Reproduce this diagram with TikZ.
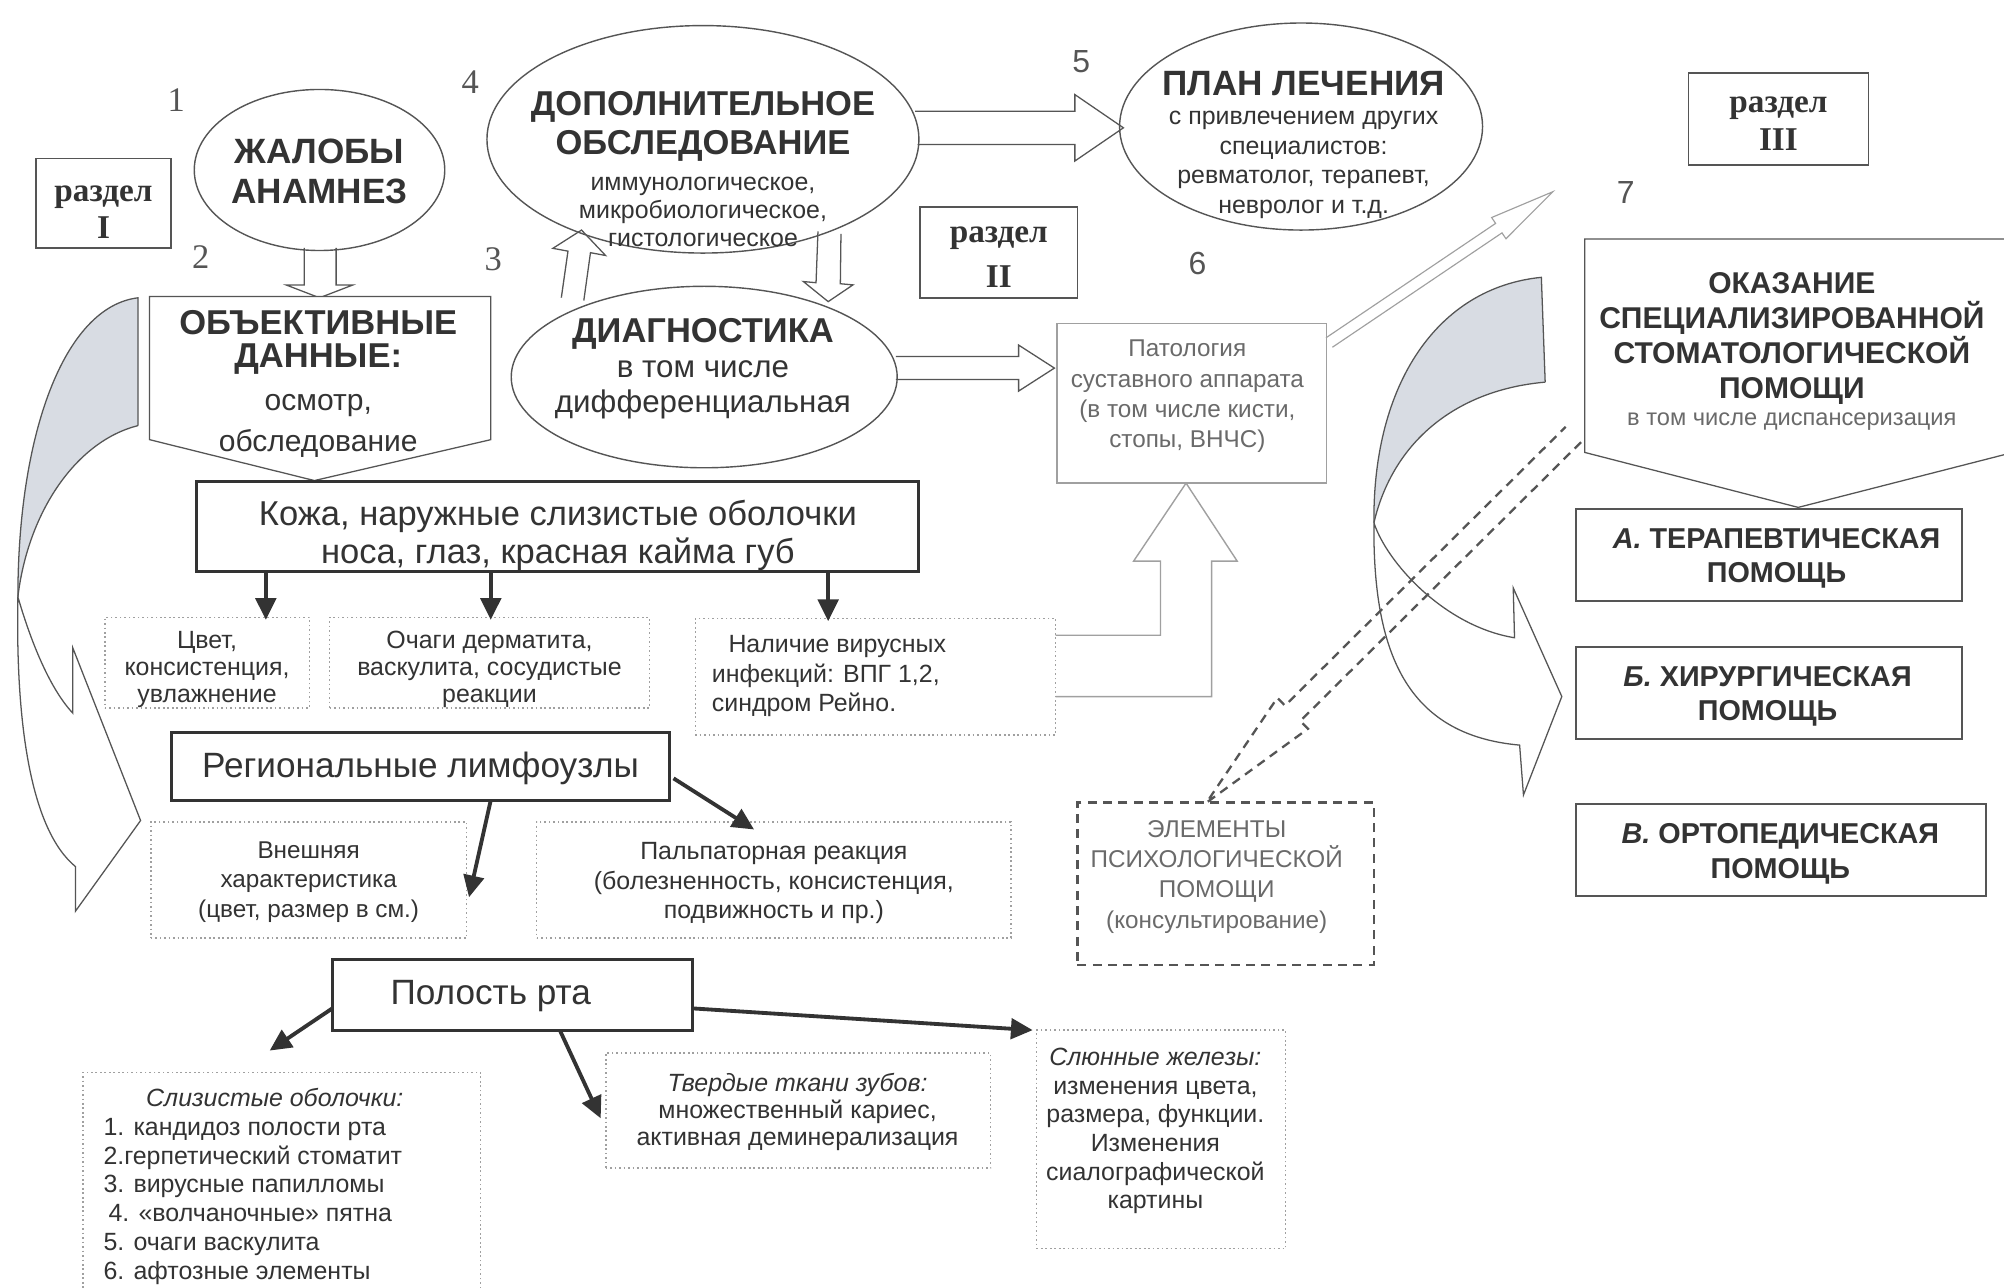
\documentclass[tikz,border=0pt]{standalone}
\usepackage{fontspec}
\setmainfont{Liberation Sans}
\newfontfamily\tms{Liberation Serif}
\usetikzlibrary{arrows.meta,shapes.geometric,calc}
\definecolor{ink}{HTML}{333333}
\definecolor{ln}{HTML}{555555}
\definecolor{lg}{HTML}{A0A0A0}
\definecolor{bandgray}{HTML}{D8DCE3}
\definecolor{soft}{HTML}{6A6A6A}
\newcommand\fsz[2]{\fontsize{#1}{#2}\selectfont}
\begin{document}
\begin{tikzpicture}[x=1pt,y=-1pt,
  every node/.style={text=ink, inner sep=0pt, outer sep=0pt},
  ell/.style={draw=ln, line width=1.1pt, ellipse},
  thinbox/.style={draw=ln, line width=1pt, rectangle},
  secbox/.style={draw=ln, line width=1.2pt, rectangle},
  heavybox/.style={draw=ink, line width=2.4pt, rectangle},
  helpbox/.style={draw=ln, line width=1.6pt, rectangle},
  dotbox/.style={draw=lg, line width=1.1pt, dash pattern=on 1.3pt off 2.2pt, rectangle},
  elembox/.style={draw=ln, line width=2pt, dash pattern=on 7pt off 5pt, rectangle},
  darr/.style={draw=ink, line width=3pt, -{Triangle[length=17pt,width=16pt]}},
  harr/.style={draw=ln, line width=1pt, fill=white, line join=miter},
  big/.style={font=\bfseries\fsz{27}{26}, align=center},
  small/.style={font=\fsz{19.5}{21}, align=center},
  num/.style={font=\tms\fsz{27}{27}, text=ln},
  nums/.style={font=\fsz{25}{25}, text=ln},
  sec/.style={font=\tms\bfseries\fsz{26}{29}, align=center}
]
\useasboundingbox (0,0) rectangle (1568,1007);
\clip (0,0) rectangle (1568,1007);
\fill[white] (0,0) rectangle (1568,1007);

% ---------- curved arrows ----------
% left
\fill[bandgray] (108,233) -- (108,333) .. controls (60,345) and (22,400) .. (14,467)
   .. controls (14,340) and (50,240) .. (108,233) -- cycle;
\draw[ln, line width=1pt, line join=miter] (108,333) -- (108,233)
   .. controls (50,240) and (14,340) .. (14,467)
   .. controls (12,570) and (25,650) .. (59,678) -- (59,713) -- (110,642) -- (57,507) -- (57,558)
   .. controls (40,540) and (25,505) .. (14,467);
\draw[ln, line width=1pt] (108,333) .. controls (60,345) and (22,400) .. (14,467);
% right
\fill[bandgray] (1206,217) -- (1209,299) .. controls (1140,305) and (1090,345) .. (1075,409)
   .. controls (1074,300) and (1125,225) .. (1206,217) -- cycle;
\draw[ln, line width=1pt, line join=miter] (1209,299) -- (1206,217)
   .. controls (1125,225) and (1074,300) .. (1075,409)
   .. controls (1074,510) and (1100,575) .. (1189,583) -- (1192,622) -- (1222,545) -- (1184,460) -- (1185,499)
   .. controls (1130,490) and (1085,440) .. (1075,409);
\draw[ln, line width=1pt] (1209,299) .. controls (1140,305) and (1090,345) .. (1075,409);

% ---------- section boxes ----------
\node[secbox, minimum width=106pt, minimum height=70pt] (secI) at (81,159) {};
\node[sec] (secIt) at (81,166) {раздел\\I};
\node[secbox, minimum width=123pt, minimum height=71pt] (secII) at (781.5,197.5) {};
\node[sec, font=\tms\bfseries\fsz{26}{35}] (secIIt) at (781.5,201) {раздел\\II};
\node[secbox, minimum width=141pt, minimum height=72pt] (secIII) at (1391.5,93) {};
\node[sec, font=\tms\bfseries\fsz{26}{30}] (secIIIt) at (1391.5,97) {раздел\\III};

% ---------- numbers ----------
\node[num] (n1) at (138,78) {1};
\node[num] (n2) at (157,201) {2};
\node[num] (n3) at (386,203) {3};
\node[num] (n4) at (368,64) {4};
\node[nums] (n5) at (846,48) {5};
\node[nums] (n6) at (937,206) {6};
\node[nums] (n7) at (1272,151) {7};

% ---------- block arrows (drawn before ellipses) ----------
\draw[harr] (238,194) -- (238,223) -- (224,223) -- (250,233) -- (276,223) -- (263,223) -- (263,194);
\draw[harr] (716,87) -- (841,87) -- (841,74) -- (879,100) -- (841,126) -- (841,113) -- (718,113);
\draw[harr] (701,279) -- (797,279) -- (797,270) -- (825,288) -- (797,306) -- (797,297) -- (701,297);
\draw[harr] (439.2,232.9) -- (444.4,196.5) -- (432.6,194.3) -- (455,180) -- (473.8,199.9) -- (462.0,197.7) -- (456.8,235.1);
\draw[harr] (640.0,181.1) -- (638.5,221.2) -- (628.6,220.3) -- (648,236) -- (667.4,222.9) -- (657.5,222.0) -- (658.0,182.9);

% ---------- ellipses ----------
\node[ell, minimum width=196pt, minimum height=126pt] (zhal) at (250,133) {};
\node[big, font=\bfseries\fsz{27.5}{31}] (zhalt) at (250,134) {ЖАЛОБЫ\\АНАМНЕЗ};

\node[ell, minimum width=338pt, minimum height=178pt] (dop) at (550,109) {};
\node[big, font=\bfseries\fsz{27}{31}] (dopt) at (550,99) {ДОПОЛНИТЕЛЬНОЕ\\ОБСЛЕДОВАНИЕ};
\node[small, font=\fsz{19.5}{22}] (dops) at (550,166) {иммунологическое,\\микробиологическое,\\гистологическое};

\node[ell, minimum width=302pt, minimum height=142pt] (diag) at (551,295) {};
\node[big] (diagt) at (550,261) {ДИАГНОСТИКА};
\node[font=\fsz{24.5}{27}, align=center] (diags) at (550,305) {в том числе\\дифференциальная};

\node[ell, minimum width=284pt, minimum height=162pt] (plan) at (1018,99) {};
\node[big, font=\bfseries\fsz{27.5}{27}] (plant) at (1020,65) {ПЛАН ЛЕЧЕНИЯ};
\node[small, font=\fsz{19.5}{23}] (plans) at (1020,129) {с привлечением других\\специалистов:\\ревматолог, терапевт,\\невролог и т.д.};

% ---------- objective data pentagon ----------
\draw[ln, line width=1pt, fill=white] (117,232) -- (384,232) -- (384,344) -- (246,376) -- (117,344) -- cycle;
\coordinate (obj) at (250,300);
\node[big] (objt) at (249,268) {ОБЪЕКТИВНЫЕ\\ДАННЫЕ:};
\node[font=\fsz{23.5}{32}, align=center] (objs) at (249,333) {осмотр,\\обследование};

% ---------- Патология ----------
\node[thinbox, draw=lg, minimum width=211pt, minimum height=125pt] (pat) at (932.5,315.5) {};
\node[small, font=\fsz{19}{23.5}, text=soft] (patt) at (929,310) {Патология\\суставного аппарата\\(в том числе кисти,\\стопы, ВНЧС)};

% thin arrow to section III
\draw[lg, line width=0.9pt, line join=miter] (1037.5,264.3) -- (1170.2,174.8) -- (1167.1,170.2) -- (1215,150) -- (1178.3,186.8) -- (1175.2,182.2) -- (1042.5,271.7);

% ---------- Кожа ----------
\node[heavybox, minimum width=565pt, minimum height=70pt] (koza) at (436.5,412) {};
\node[font=\fsz{27}{30}, align=center] (kozat) at (436.5,419) {Кожа, наружные слизистые оболочки\\носа, глаз, красная кайма губ};

\node[dotbox, minimum width=160pt, minimum height=71pt] (cvet) at (162,518.5) {};
\node[small] (cvett) at (162,524) {Цвет,\\консистенция,\\увлажнение};
\node[dotbox, minimum width=250pt, minimum height=71pt] (ochag) at (383,518.5) {};
\node[small] (ochagt) at (383,524) {Очаги дерматита,\\васкулита, сосудистые\\реакции};
\node[dotbox, minimum width=282pt, minimum height=91pt] (nal) at (685,529.5) {};
\node[small, font=\fsz{19.5}{23}, align=left, anchor=west] (nalt) at (557,529) {\hspace*{13pt}Наличие вирусных\\инфекций: ВПГ 1,2,\\синдром Рейно.};

\coordinate (k1) at (208,0); \coordinate (k2) at (384,0); \coordinate (k3) at (648,0);
\draw[darr] (koza.south -| k1) -- ([yshift=-2pt]cvet.north -| k1);
\draw[darr] (koza.south -| k2) -- ([yshift=-2pt]ochag.north -| k2);
\draw[darr] (koza.south -| k3) -- ([yshift=-2pt]nal.north -| k3);

% L-shaped light arrow from Наличие to Патология
\draw[lg, line width=1.1pt, line join=miter] (nal.east |- 0,497) -- (908,497) -- (908,439) -- (887,439) -- (pat.south -| 928,0) -- (968,439) -- (948,439) -- (948,545) -- (nal.east |- 0,545);

% ---------- Региональные ----------
\node[heavybox, minimum width=390pt, minimum height=53pt] (reg) at (329,599.5) {};
\node[font=\fsz{27.5}{28}] (regt) at (329,601) {Региональные лимфоузлы};
\node[dotbox, minimum width=247pt, minimum height=91pt] (vnesh) at (241.5,688.5) {};
\node[small, font=\fsz{19}{23}] (vnesht) at (241.5,690) {Внешняя\\характеристика\\(цвет, размер в см.)};
\node[dotbox, minimum width=371pt, minimum height=91pt] (palp) at (605.5,688.5) {};
\node[small, font=\fsz{19.5}{23}] (palpt) at (605.5,691) {Пальпаторная реакция\\(болезненность, консистенция,\\подвижность и пр.)};
\coordinate (r1a) at (384,626); \coordinate (r1b) at (367,702);
\coordinate (r2a) at (527,609); \coordinate (r2b) at (590,649);
\draw[darr] (r1a) -- (r1b);
\draw[darr] (r2a) -- (r2b);

% ---------- Полость рта ----------
\node[heavybox, minimum width=282pt, minimum height=55pt] (pol) at (401,778.5) {};
\node[font=\fsz{27.5}{28}] (polt) at (384,779) {Полость рта};
\node[dotbox, minimum width=311pt, minimum height=180pt] (sliz) at (220.5,929) {};
\node[font=\itshape\fsz{19.5}{20}] (slizh) at (215,859) {Слизистые оболочки:};
\node[font=\fsz{19.5}{22.6}, align=left, anchor=west] (slizl) at (81,940) {1. кандидоз полости рта\\2.герпетический стоматит\\3. вирусные папилломы\\\hspace*{4pt}4. «волчаночные» пятна\\5. очаги васкулита\\6. афтозные элементы};
\node[dotbox, minimum width=301pt, minimum height=90pt] (tverd) at (624.5,869) {};
\node[small, font=\fsz{19.5}{21.5}] (tverdt) at (624,870) {\textit{Твердые ткани зубов:}\\множественный кариес,\\активная деминерализация};
\node[dotbox, minimum width=195pt, minimum height=171pt] (slun) at (908.5,891.5) {};
\node[small, font=\fsz{19.5}{22.4}] (slunt) at (904,885) {\textit{Слюнные железы:}\\изменения цвета,\\размера, функции.\\Изменения\\сиалографической\\картины};
\coordinate (p1a) at (260,789); \coordinate (p1b) at (211,822);
\coordinate (p2a) at (438,806); \coordinate (p2b) at (470,875);
\coordinate (p3a) at (542,789); \coordinate (p3b) at (808,806);
\draw[darr] (p1a) -- (p1b);
\draw[darr] (p2a) -- (p2b);
\draw[darr] (p3a) -- (p3b);

% ---------- Элементы психологической помощи ----------
\node[elembox, minimum width=232pt, minimum height=127pt] (elem) at (959,691.5) {};
\node[small, font=\fsz{19}{23.7}, text=soft] (elemt) at (952,686) {ЭЛЕМЕНТЫ\\ПСИХОЛОГИЧЕСКОЙ\\ПОМОЩИ\\(консультирование)};

% ---------- Оказание помощи ----------
\draw[ln, line width=1pt, fill=white] (1240,187) -- (1575,187) -- (1575,354) -- (1407,397) -- (1240,354) -- cycle;
\coordinate (okaz) at (1407,280);
\node[big, font=\bfseries\fsz{23.5}{27.3}] (okazt) at (1402,265) {ОКАЗАНИЕ\\СПЕЦИАЛИЗИРОВАННОЙ\\СТОМАТОЛОГИЧЕСКОЙ\\ПОМОЩИ};
\node[font=\fsz{18.5}{19}, text=soft] (okazs) at (1402,330) {в том числе диспансеризация};

\node[helpbox, minimum width=302pt, minimum height=72pt] (ta) at (1384,434) {};
\node[big, font=\bfseries\fsz{22.5}{27}] (tat) at (1390,437) {\textit{А.} ТЕРАПЕВТИЧЕСКАЯ\\ПОМОЩЬ};
\node[helpbox, minimum width=302pt, minimum height=72pt] (tb) at (1384,542) {};
\node[big, font=\bfseries\fsz{22.5}{27}] (tbt) at (1383,545) {\textit{Б.} ХИРУРГИЧЕСКАЯ\\ПОМОЩЬ};
\node[helpbox, minimum width=321pt, minimum height=72pt] (tv) at (1393.5,665) {};
\node[big, font=\bfseries\fsz{22.5}{27}] (tvt) at (1393,668) {\textit{В.} ОРТОПЕДИЧЕСКАЯ\\ПОМОЩЬ};

% dashed hollow arrow between Оказание and Элементы
\draw[ln, line width=1.8pt, dash pattern=on 7pt off 5pt, line join=miter]
  (1237,346) -- (1017.4,564.1) -- (1023.4,570.2) -- (elem.north -| 944,0) -- (999.4,546) -- (1005.4,552.1) -- (1225,334);
\end{tikzpicture}
\end{document}
